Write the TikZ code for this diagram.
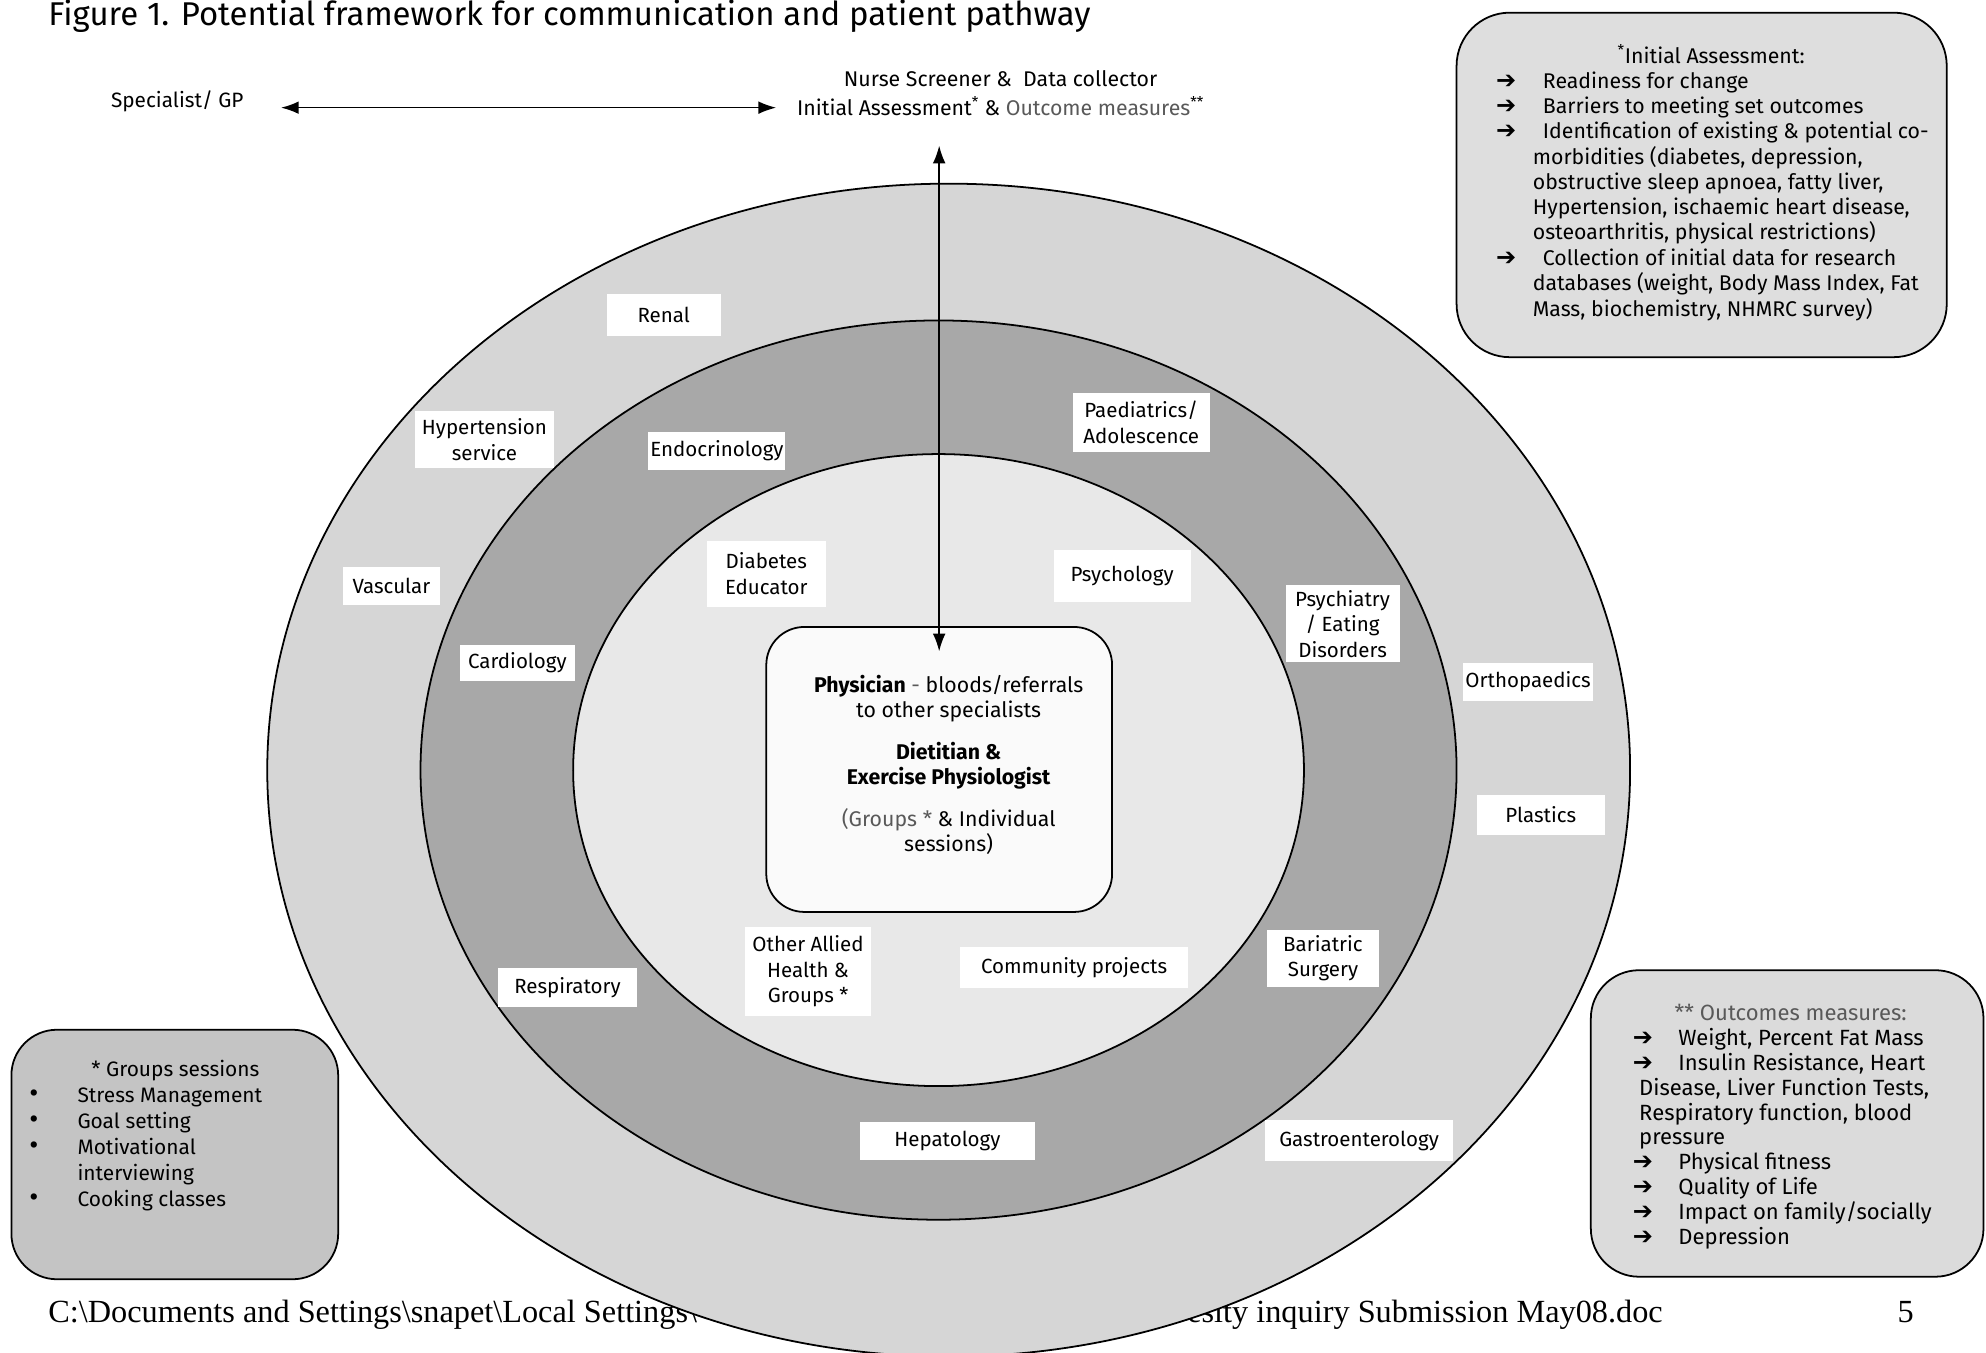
\documentclass[tikz,border=0pt]{standalone}
\usepackage{fontspec}
\setmainfont{Fira Sans}
\newfontfamily\arrowfont{DejaVu Sans}
\newfontfamily\docfont{Liberation Serif}
\usetikzlibrary{arrows.meta}

\definecolor{outerring}{gray}{0.84}
\definecolor{midring}{gray}{0.66}
\definecolor{innerring}{gray}{0.91}
\definecolor{centrefill}{gray}{0.98}
\definecolor{iafill}{gray}{0.87}
\definecolor{omfill}{gray}{0.86}
\definecolor{grpfill}{gray}{0.77}
\definecolor{softtext}{gray}{0.35}

\newcommand{\bulletarrow}{{\arrowfont\bfseries\fontsize{19}{19}\selectfont ➔}}
\newcommand{\bigdot}{{\fontsize{22}{19}\selectfont\textbullet}}

\tikzset{
	ring/.style={draw=black, line width=1.4pt},
	lbl/.style={fill=white, inner sep=0pt, align=center, font=\fontsize{16.2}{20}\selectfont},
	panel/.style={draw=black, line width=1.4pt, rounded corners=42pt},
	listtxt/.style={inner sep=0pt, anchor=north west},
	link/.style={line width=1.3pt, {Latex[length=14pt,width=10pt]}-{Latex[length=14pt,width=10pt]}},
}

\begin{document}
\begin{tikzpicture}[x=1pt, y=-1pt, font=\fontsize{16.8}{20}\selectfont]
	\fill[white] (0,0) rectangle (1568,1068);
	\useasboundingbox (0,0) rectangle (1568,1068);

	% heading and page footer
	\node[anchor=base west, inner sep=0pt, font=\fontsize{26}{30}\selectfont] (title) at (38,20)
		{Figure 1. Potential framework for communication and patient pathway};
	\node[anchor=base west, inner sep=0pt, font=\docfont\fontsize{25.5}{30}\selectfont] (pathleft) at (38,1044)
		{C:\textbackslash Documents and Settings\textbackslash snapet\textbackslash Local Settings\textbackslash};
	\node[anchor=base east, inner sep=0pt, font=\docfont\fontsize{25.5}{30}\selectfont] (pathright) at (1313,1044)
		{Obesity inquiry Submission May08.doc};
	\node[anchor=base west, inner sep=0pt, font=\docfont\fontsize{25.5}{30}\selectfont] (pageno) at (1498,1044) {5};

	% rings
	\draw[ring, fill=outerring] (749,608) ellipse [x radius=538pt, y radius=463pt];
	\draw[ring, fill=midring] (741,608) ellipse [x radius=409pt, y radius=355pt];
	\draw[ring, fill=innerring] (741,608) ellipse [x radius=288.5pt, y radius=249.5pt];

	% centre
	\node[draw=black, line width=1.4pt, rounded corners=30pt, fill=centrefill,
		minimum width=273pt, minimum height=225pt] (centre) at (741.5,607.5) {};
	\node[align=center] (centretxt) at (749,604) {%
		\textbf{Physician} {\color{softtext}-} bloods/referrals\\
		to other specialists\\[13pt]
		\textbf{Dietitian \&}\\
		\textbf{Exercise Physiologist}\\[13pt]
		{\color{softtext}(Groups *} \& Individual\\
		sessions)};

	% services
	\foreach \nm/\x/\y/\w/\h/\txt in {
		renal/524/249/90/33/Renal,
		hyper/382.5/347/109/45/{Hypertension\\service},
		endo/566/356/108/30/Endocrinology,
		paed/901/333.5/108/46/{Paediatrics/\\Adolescence},
		vasc/309/462.5/76/30/Vascular,
		cardio/408.5/523.5/91/28/Cardiology,
		diab/605/453/94/52/{Diabetes\\Educator},
		psychol/886/455/108/41/Psychology,
		psychiat/1060/492.5/90/61/{Psychiatry\\/ Eating\\Disorders},
		ortho/1206.5/538.5/103/30/Orthopaedics,
		plast/1216.5/643.5/101/31/Plastics,
		bari/1044.5/756.5/89/45/{Bariatric\\Surgery},
		allied/638/767/100/70/{Other Allied\\Health \&\\Groups *},
		comm/848/764/180/32/{Community projects},
		resp/448/779.5/110/31/Respiratory,
		hepat/748/901/138/30/Hepatology,
		gastro/1073/900.5/148/32/Gastroenterology}{
		\node[lbl, minimum width=\w pt, minimum height=\h pt] (\nm) at (\x,\y) {\txt};
	}

	% referral path
	\node[font=\fontsize{16.4}{20}\selectfont] (gp) at (140,80) {Specialist/ GP};
	\node[align=center] (nurse) at (790,73.5) {Nurse Screener \&\ \ Data collector\\[3pt]
		Initial Assessment\textsuperscript{*} \& {\color{softtext}Outcome measures}\textsuperscript{**}};
	\draw[link, shorten <=26pt, shorten >=13pt] ([yshift=-5pt]gp.east) -- ([yshift=-5pt]gp.east -| nurse.west);
	\draw[link, shorten <=20pt] (centre.north |- nurse.south) -- ([yshift=-20pt]centre.north);

	% side panels
	\node[panel, fill=iafill, minimum width=387pt, minimum height=272pt] (iabox) at (1343.5,146) {};
	\node[listtxt, font=\fontsize{16.8}{19.8}\selectfont] (iatxt) at (1181,35) {%
		\begin{tabular}{@{}p{29pt}@{}l@{}}
			\multicolumn{2}{@{}l@{}}{\hspace{96pt}\textsuperscript{*}Initial Assessment:}\\
			\bulletarrow & \hspace{8pt}Readiness for change\\
			\bulletarrow & \hspace{8pt}Barriers to meeting set outcomes\\
			\bulletarrow & \hspace{8pt}Identification of existing \& potential co-\\
			& morbidities (diabetes, depression,\\
			& obstructive sleep apnoea, fatty liver,\\
			& Hypertension, ischaemic heart disease,\\
			& osteoarthritis, physical restrictions)\\
			\bulletarrow & \hspace{8pt}Collection of initial data for research\\
			& databases (weight, Body Mass Index, Fat\\
			& Mass, biochemistry, NHMRC survey)
		\end{tabular}};

	\node[panel, fill=omfill, rounded corners=38pt, minimum width=310pt, minimum height=242pt] (ombox) at (1411,887) {};
	\node[listtxt, font=\fontsize{17.4}{19.6}\selectfont] (omtxt) at (1289,792) {%
		\begin{tabular}{@{}p{36pt}@{}l@{}}
			\multicolumn{2}{@{}l@{}}{\hspace{33pt}{\color{softtext}** Outcomes measures:}}\\
			\bulletarrow & Weight, Percent Fat Mass\\
			\bulletarrow & Insulin Resistance, Heart\\
			\multicolumn{2}{@{}l@{}}{\hspace{5pt}Disease, Liver Function Tests,}\\
			\multicolumn{2}{@{}l@{}}{\hspace{5pt}Respiratory function, blood}\\
			\multicolumn{2}{@{}l@{}}{\hspace{5pt}pressure}\\
			\bulletarrow & Physical fitness\\
			\bulletarrow & Quality of Life\\
			\bulletarrow & Impact on family/socially\\
			\bulletarrow & Depression
		\end{tabular}};

	\node[panel, fill=grpfill, rounded corners=36pt, minimum width=258pt, minimum height=197pt] (grpbox) at (138,911.5) {};
	\node[listtxt, font=\fontsize{16.5}{20.6}\selectfont] (grptxt) at (23,835) {%
		\begin{tabular}{@{}p{38pt}@{}l@{}}
			\multicolumn{2}{@{}l@{}}{\hspace{49pt}* Groups sessions}\\
			\bigdot & Stress Management\\
			\bigdot & Goal setting\\
			\bigdot & Motivational\\
			& interviewing\\
			\bigdot & Cooking classes
		\end{tabular}};
\end{tikzpicture}
\end{document}
